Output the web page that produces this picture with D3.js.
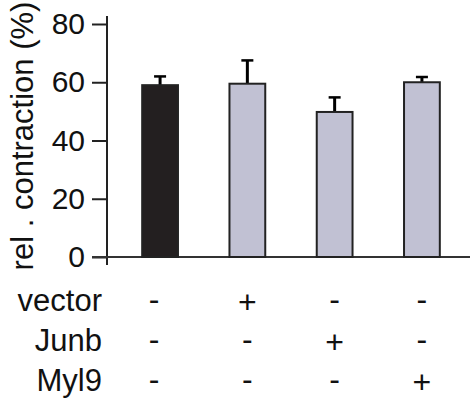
<!DOCTYPE html>
<html>
<head>
<meta charset="utf-8">
<script src="https://cdn.jsdelivr.net/npm/d3@7"></script>
<style>
  body { margin: 0; background: #fff; }
  text { font-family: "Liberation Sans", Arial, sans-serif; fill: #111; }
</style>
</head>
<body>
<div id="chart"></div>
<script>
const groups = ["ctrl", "vector", "Junb", "Myl9"];
const values = [59, 59.5, 49.8, 60];
const errors = [3, 8, 5, 1.8];
const barColors = ["#231f20", "#c1c1d3", "#c1c1d3", "#c1c1d3"];
const yTicks = [0, 20, 40, 60, 80];
const rowLabels = ["vector", "Junb", "Myl9"];
const signs = [
  ["-", "+", "-", "-"],
  ["-", "-", "+", "-"],
  ["-", "-", "-", "+"]
];

const width = 475, height = 401;
const svg = d3.select("#chart").append("svg")
    .attr("width", width)
    .attr("height", height);

const x = d3.scaleBand()
    .domain(groups)
    .range([116, 466])
    .paddingInner(0.59)
    .paddingOuter(0.3);

const y = d3.scaleLinear()
    .domain([0, 80])
    .range([257, 24]);

// y axis
const yAxis = svg.append("g")
    .attr("transform", "translate(107,0)")
    .call(d3.axisLeft(y).tickValues(yTicks).tickSize(15).tickPadding(7));
yAxis.select(".domain").remove();
yAxis.selectAll(".tick line").attr("stroke", "#222").attr("stroke-width", 2);
yAxis.selectAll(".tick text")
    .style("font-family", "Liberation Sans, Arial, sans-serif")
    .style("font-size", "30px")
    .attr("fill", "#111");
svg.append("line")
    .attr("x1", 107).attr("x2", 107)
    .attr("y1", 16).attr("y2", 265)
    .attr("stroke", "#222").attr("stroke-width", 2);

// x baseline
svg.append("line")
    .attr("x1", 92).attr("x2", 470)
    .attr("y1", y(0)).attr("y2", y(0))
    .attr("stroke", "#333").attr("stroke-width", 2);

// error bars
const eb = svg.append("g");
groups.forEach((g, i) => {
  const cx = x(g) + x.bandwidth() / 2;
  eb.append("line")
      .attr("x1", cx).attr("x2", cx)
      .attr("y1", y(values[i])).attr("y2", y(values[i] + errors[i]))
      .attr("stroke", "#000").attr("stroke-width", 3);
  eb.append("line")
      .attr("x1", cx - 6).attr("x2", cx + 6)
      .attr("y1", y(values[i] + errors[i])).attr("y2", y(values[i] + errors[i]))
      .attr("stroke", "#000").attr("stroke-width", 2.5);
});

// bars
svg.append("g").selectAll("rect")
    .data(groups)
    .join("rect")
    .attr("x", d => x(d))
    .attr("y", (d, i) => y(values[i]))
    .attr("width", x.bandwidth())
    .attr("height", (d, i) => y(0) - y(values[i]))
    .attr("fill", (d, i) => barColors[i])
    .attr("stroke", "#222")
    .attr("stroke-width", 2);

// y label
svg.append("text")
    .attr("transform", "translate(33,136) rotate(-90)")
    .attr("text-anchor", "middle")
    .style("font-size", "31px")
    .text("rel . contraction (%)");

// condition table
const rowY = [311, 351, 391];
rowLabels.forEach((lab, r) => {
  svg.append("text")
      .attr("x", 102).attr("y", rowY[r])
      .attr("text-anchor", "end")
      .style("font-size", "31px")
      .text(lab);
  signs[r].forEach((s, i) => {
    svg.append("text")
        .attr("x", x(groups[i]) + x.bandwidth() / 2 - (i === 0 ? 6 : 0))
        .attr("y", rowY[r] + (s === "-" ? -1 : 2))
        .attr("text-anchor", "middle")
        .style("font-size", "32px")
        .text(s);
  });
});
</script>
</body>
</html>
